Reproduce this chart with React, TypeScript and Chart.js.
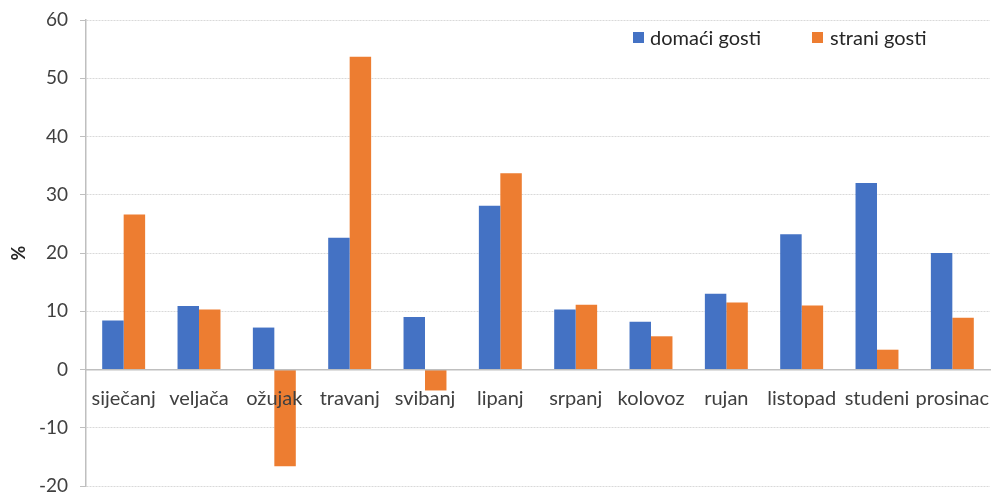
import React, { useEffect, useRef } from "react";
import { Chart, registerables } from "chart.js";

Chart.register(...registerables);

const months = ["siječanj", "veljača", "ožujak", "travanj", "svibanj", "lipanj", "srpanj", "kolovoz", "rujan", "listopad", "studeni", "prosinac"];
const domaci = [8.4, 10.9, 7.2, 22.6, 9.0, 28.1, 10.3, 8.2, 13.0, 23.2, 32.0, 20.0];
const strani = [26.6, 10.3, -16.6, 53.7, -3.6, 33.7, 11.1, 5.7, 11.5, 11.0, 3.4, 8.9];
const seriesNames = ["domaći gosti", "strani gosti"];
const yMin = -20;
const yMax = 60;
const yStep = 10;

const BLUE = "#4472C4";
const ORANGE = "#ED7D31";
const FONT = "Lato, 'Open Sans', sans-serif";

export default function App() {
  const ref = useRef<HTMLCanvasElement | null>(null);
  useEffect(() => {
    document.body.style.margin = "0";
    const ctx = ref.current!;
    const chart = new Chart(ctx, {
      type: "bar",
      data: {
        labels: months,
        datasets: [
          { label: seriesNames[0], data: domaci, backgroundColor: BLUE, borderWidth: 0 },
          { label: seriesNames[1], data: strani, backgroundColor: ORANGE, borderWidth: 0 },
        ],
      },
      options: {
        animation: false,
        responsive: false,
        devicePixelRatio: 1,
        layout: { padding: { left: 8, top: 20, right: 4, bottom: 9 } },
        datasets: { bar: { barPercentage: 1, categoryPercentage: 0.57 } },
        plugins: { legend: { display: false }, tooltip: { enabled: false } },
        scales: {
          x: {
            position: { y: 0 } as any,
            grid: { display: false, drawTicks: false },
            border: { display: true, color: "#bfbfbf", width: 1.5, z: 1 },
            ticks: { z: 1, color: "#404040", font: { family: FONT, size: 20 }, padding: 17, maxRotation: 0, autoSkip: false },
            afterFit: (s: any) => { s.paddingTop = 0; s.paddingBottom = 0; s.paddingLeft = 0; s.paddingRight = 0; },
          },
          y: {
            min: yMin,
            max: yMax,
            ticks: { stepSize: yStep, color: "#404040", font: { family: FONT, size: 19 }, padding: 12 },
            grid: { color: "#d9d9d9", lineWidth: 1, tickLength: 6, tickColor: "#bfbfbf", tickBorderDash: [] },
            border: { display: true, color: "#bfbfbf", width: 1.5, dash: [2, 1] },
            title: { display: true, text: "%", color: "#262626", font: { family: FONT, size: 18, weight: "bold" }, padding: 0 },
            afterFit: (s: any) => { s.width = 78; s.paddingTop = 0; s.paddingBottom = 0; },
          },
        },
      },
    });
    return () => chart.destroy();
  }, []);

  const legendText: React.CSSProperties = { position: "absolute", top: 26, fontFamily: FONT, fontSize: 20, color: "#262626", lineHeight: "22px", whiteSpace: "nowrap" };
  return (
    <div style={{ position: "relative", width: 994, height: 495, background: "#fff" }}>
      <canvas ref={ref} width={994} height={495} style={{ display: "block", width: 994, height: 495 }} />
      <div style={{ position: "absolute", left: 633, top: 32, width: 11, height: 11, background: BLUE }} />
      <div style={{ ...legendText, left: 650 }}>{seriesNames[0]}</div>
      <div style={{ position: "absolute", left: 812, top: 32, width: 11, height: 11, background: ORANGE }} />
      <div style={{ ...legendText, left: 830 }}>{seriesNames[1]}</div>
    </div>
  );
}
